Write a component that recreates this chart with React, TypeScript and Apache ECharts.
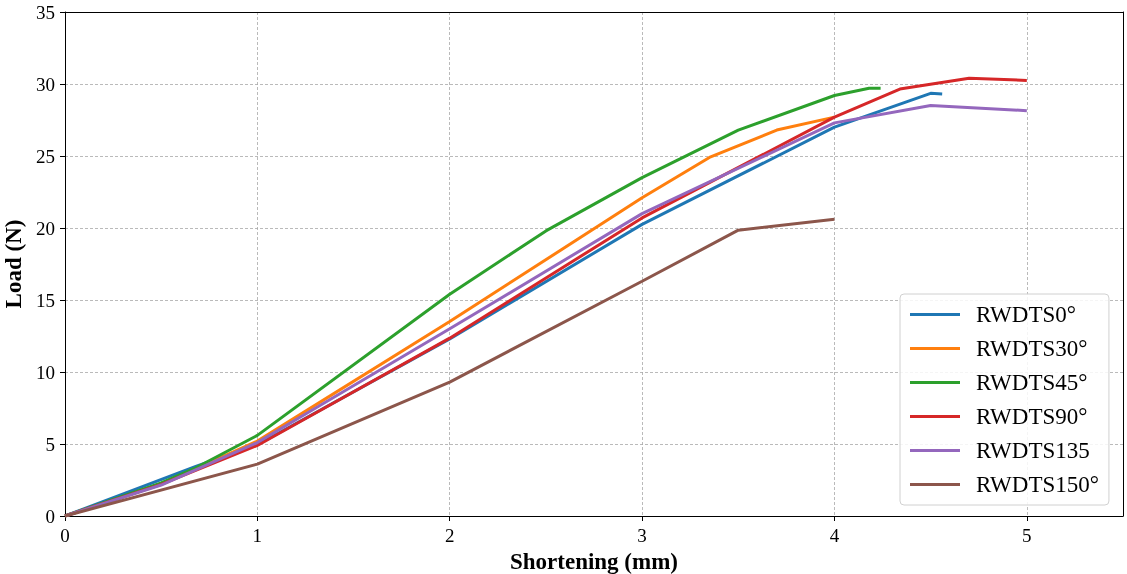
import React, { useEffect, useRef } from "react";
import * as echarts from "echarts";

const seriesNames = ["RWDTS0°", "RWDTS30°", "RWDTS45°", "RWDTS90°", "RWDTS135", "RWDTS150°"];
const colors = ["#1f77b4", "#ff7f0e", "#2ca02c", "#d62728", "#9467bd", "#8c564b"];

const rwdts0: number[][] = [[0, 0], [0.68, 3.45], [1, 4.95], [2, 12.3], [3, 20.25], [4, 27.0], [4.5, 29.35], [4.56, 29.3]];
const rwdts30: number[][] = [[0, 0], [0.5, 2.2], [1, 5.2], [2, 13.5], [3, 22.1], [3.35, 24.9], [3.7, 26.8], [4, 27.7]];
const rwdts45: number[][] = [[0, 0], [0.5, 2.3], [0.68, 3.35], [1, 5.6], [2, 15.4], [2.5, 19.8], [3, 23.5], [3.5, 26.8], [4, 29.2], [4.18, 29.7], [4.24, 29.7]];
const rwdts90: number[][] = [[0, 0], [0.5, 2.2], [1, 4.9], [2, 12.35], [3, 20.7], [4, 27.7], [4.34, 29.65], [4.7, 30.4], [5, 30.25]];
const rwdts135: number[][] = [[0, 0], [0.5, 2.15], [1, 5.1], [2, 13.0], [3, 21.0], [4, 27.3], [4.5, 28.5], [5, 28.15]];
const rwdts150: number[][] = [[0, 0], [1, 3.6], [2, 9.3], [3, 16.3], [3.5, 19.85], [4, 20.6]];
const allData = [rwdts0, rwdts30, rwdts45, rwdts90, rwdts135, rwdts150];

const xTicks = [0, 1, 2, 3, 4, 5];

const FONT = "'Liberation Serif', 'Times New Roman', serif";

export default function App() {
  const ref = useRef<HTMLDivElement>(null);
  useEffect(() => {
    if (!ref.current) return;
    const chart = echarts.init(ref.current, undefined, { renderer: "svg" });
    chart.setOption({
      animation: false,
      textStyle: { fontFamily: FONT },
      grid: { left: 65, right: 4, top: 12, bottom: 58, containLabel: false, outerBoundsMode: "none" },
      legend: {
        orient: "vertical",
        left: 900,
        top: 294,
        padding: [9, 10, 9, 10],
        itemWidth: 50,
        itemHeight: 3,
        itemGap: 11,
        icon: "rect",
        borderColor: "#d0d0d0",
        borderWidth: 1,
        borderRadius: 4,
        backgroundColor: "rgba(255,255,255,0.85)",
        textStyle: { fontFamily: FONT, fontSize: 23, color: "#000", padding: [0, 0, 0, 11] },
        data: seriesNames,
      },
      xAxis: [
        {
          type: "value",
          min: 0,
          max: 5.5,
          interval: 1,
          name: "Shortening (mm)",
          nameLocation: "middle",
          nameGap: 32,
          nameTextStyle: { fontFamily: FONT, fontSize: 23, fontWeight: "bold", color: "#000" },
          axisLine: { show: true, onZero: false, lineStyle: { color: "#000", width: 1 } },
          axisTick: { show: true, inside: false, length: 5, lineStyle: { color: "#000" }, customValues: xTicks },
          axisLabel: { fontFamily: FONT, fontSize: 19, color: "#000", margin: 10, customValues: xTicks },
          splitLine: { show: true, lineStyle: { color: "#a8a8a8", type: [3, 2], width: 0.8 } },
        },
        {
          type: "value",
          position: "top",
          min: 0,
          max: 5.5,
          axisLine: { show: true, onZero: false, lineStyle: { color: "#000", width: 1 } },
          axisTick: { show: false },
          axisLabel: { show: false },
          splitLine: { show: false },
        },
      ],
      yAxis: [
        {
          type: "value",
          min: 0,
          max: 35,
          interval: 5,
          name: "Load (N)",
          nameLocation: "middle",
          nameGap: 39,
          nameTextStyle: { fontFamily: FONT, fontSize: 23, fontWeight: "bold", color: "#000" },
          axisLine: { show: true, onZero: false, lineStyle: { color: "#000", width: 1 } },
          axisTick: { show: true, inside: false, length: 5, lineStyle: { color: "#000" } },
          axisLabel: { fontFamily: FONT, fontSize: 19, color: "#000", margin: 10 },
          splitLine: { show: true, lineStyle: { color: "#a8a8a8", type: [3, 2], width: 0.8 } },
        },
        {
          type: "value",
          position: "right",
          min: 0,
          max: 35,
          axisLine: { show: true, onZero: false, lineStyle: { color: "#000", width: 1 } },
          axisTick: { show: false },
          axisLabel: { show: false },
          splitLine: { show: false },
        },
      ],
      series: allData.map((d, i) => ({
        name: seriesNames[i],
        type: "line",
        data: d,
        showSymbol: false,
        symbol: "none",
        lineStyle: { width: 3, color: colors[i] },
        itemStyle: { color: colors[i] },
        z: 3,
      })),
    });
    return () => chart.dispose();
  }, []);
  return <div ref={ref} style={{ position: "fixed", left: 0, top: 0, width: 1127, height: 574 }} />;
}
